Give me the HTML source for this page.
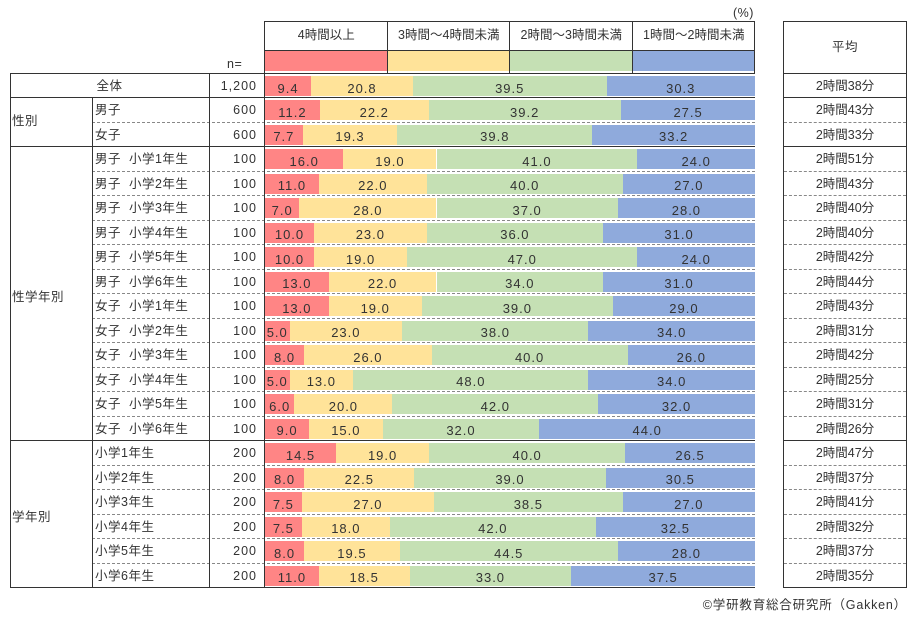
<!DOCTYPE html>
<html><head><meta charset="utf-8">
<style>
body{margin:0;background:#fff;width:913px;height:619px;position:relative;overflow:hidden;font-family:"Liberation Sans","Noto Sans CJK JP",sans-serif;color:#333;font-size:12.5px}
.a{position:absolute}
.t{position:absolute;white-space:nowrap;line-height:1;letter-spacing:0.5px}
</style></head><body>
<div id="c"></div>
<script>
var rows=[
["全体","1,200",[9.4,20.8,39.5,30.3],"2時間38分"],
["男子","600",[11.2,22.2,39.2,27.5],"2時間43分"],
["女子","600",[7.7,19.3,39.8,33.2],"2時間33分"],
["男子  小学1年生","100",[16,19,41,24],"2時間51分"],
["男子  小学2年生","100",[11,22,40,27],"2時間43分"],
["男子  小学3年生","100",[7,28,37,28],"2時間40分"],
["男子  小学4年生","100",[10,23,36,31],"2時間40分"],
["男子  小学5年生","100",[10,19,47,24],"2時間42分"],
["男子  小学6年生","100",[13,22,34,31],"2時間44分"],
["女子  小学1年生","100",[13,19,39,29],"2時間43分"],
["女子  小学2年生","100",[5,23,38,34],"2時間31分"],
["女子  小学3年生","100",[8,26,40,26],"2時間42分"],
["女子  小学4年生","100",[5,13,48,34],"2時間25分"],
["女子  小学5年生","100",[6,20,42,32],"2時間31分"],
["女子  小学6年生","100",[9,15,32,44],"2時間26分"],
["小学1年生","200",[14.5,19,40,26.5],"2時間47分"],
["小学2年生","200",[8,22.5,39,30.5],"2時間37分"],
["小学3年生","200",[7.5,27,38.5,27],"2時間41分"],
["小学4年生","200",[7.5,18,42,32.5],"2時間32分"],
["小学5年生","200",[8,19.5,44.5,28],"2時間37分"],
["小学6年生","200",[11,18.5,33,37.5],"2時間35分"]];
var col=["#FF8585","#FFE399","#C5E0B4","#8FAADC"];
var h="";
function box(x,y,w,hh,st){h+='<div class="a" style="left:'+x+'px;top:'+y+'px;width:'+w+'px;height:'+hh+'px;'+st+'"></div>';}
function txt(x,y,s,st){h+='<div class="t" style="left:'+x+'px;top:'+y+'px;'+(st||'')+'">'+s+'</div>';}
function ctxt(x,w,y,s,st){h+='<div class="t" style="left:'+x+'px;top:'+y+'px;width:'+w+'px;text-align:center;'+(st||'')+'">'+s+'</div>';}
var X0=265,W=490,T=73,RH=24.476;
var labs=["4時間以上","3時間～4時間未満","2時間～3時間未満","1時間～2時間未満"];
for(var i=0;i<4;i++){var x=X0+i*W/4;box(x,51,W/4,20,"background:"+col[i]);ctxt(x,W/4,29,labs[i],"letter-spacing:0");}
box(264,21,491,1,"background:#333");box(264,21,1,53,"background:#333");box(754,21,1,53,"background:#333");
box(264,50,491,1,"background:#333");
for(var i=1;i<4;i++)box(X0+i*W/4-1,21,1,53,"background:#333");
txt(733,7,"(%)");txt(227,58,"n=");
box(783,21,124,1,"background:#333");box(783,21,1,567,"background:#333");box(906,21,1,567,"background:#333");
ctxt(783,124,41,"平均");
var solid=[0,1,3,15,21];
for(var r=0;r<21;r++){
 var y=T+r*RH,R=rows[r];
 var bx=X0;
 for(var k=0;k<4;k++){var w=R[2][k]/100*W;box(bx,y+3,w,20,"background:"+col[k]);ctxt(bx,w,y+8.5,R[2][k].toFixed(1),"font-size:13px;letter-spacing:1px");bx+=w;}
 if(r==0)ctxt(10,199,y+7,R[0]);else txt(95,y+7,R[0].replace("  ","&nbsp;&nbsp;"));
 txt(0,y+7,R[1],"width:257px;text-align:right;letter-spacing:1px");
 ctxt(783,124,y+7,R[3],"letter-spacing:0");
}
for(var r=0;r<=21;r++){
 var y=Math.round(T+r*RH);
 if(solid.indexOf(r)>=0){box(10,y,745,1,"background:#333");box(783,y,124,1,"background:#333");}
 else{box(92,y,663,0,"border-top:1px dashed #888");box(784,y,122,0,"border-top:1px dashed #888");}
}
box(10,73,1,515,"background:#333");box(92,98,1,490,"background:#333");box(209,73,1,515,"background:#333");box(264,73,1,515,"background:#333");
txt(12,115,"性別");txt(12,291,"性学年別");txt(12,511,"学年別");
txt(0,599,"©学研教育総合研究所（Gakken）","width:907px;text-align:right;letter-spacing:0.8px");
document.getElementById("c").innerHTML=h;
</script>
</body></html>
